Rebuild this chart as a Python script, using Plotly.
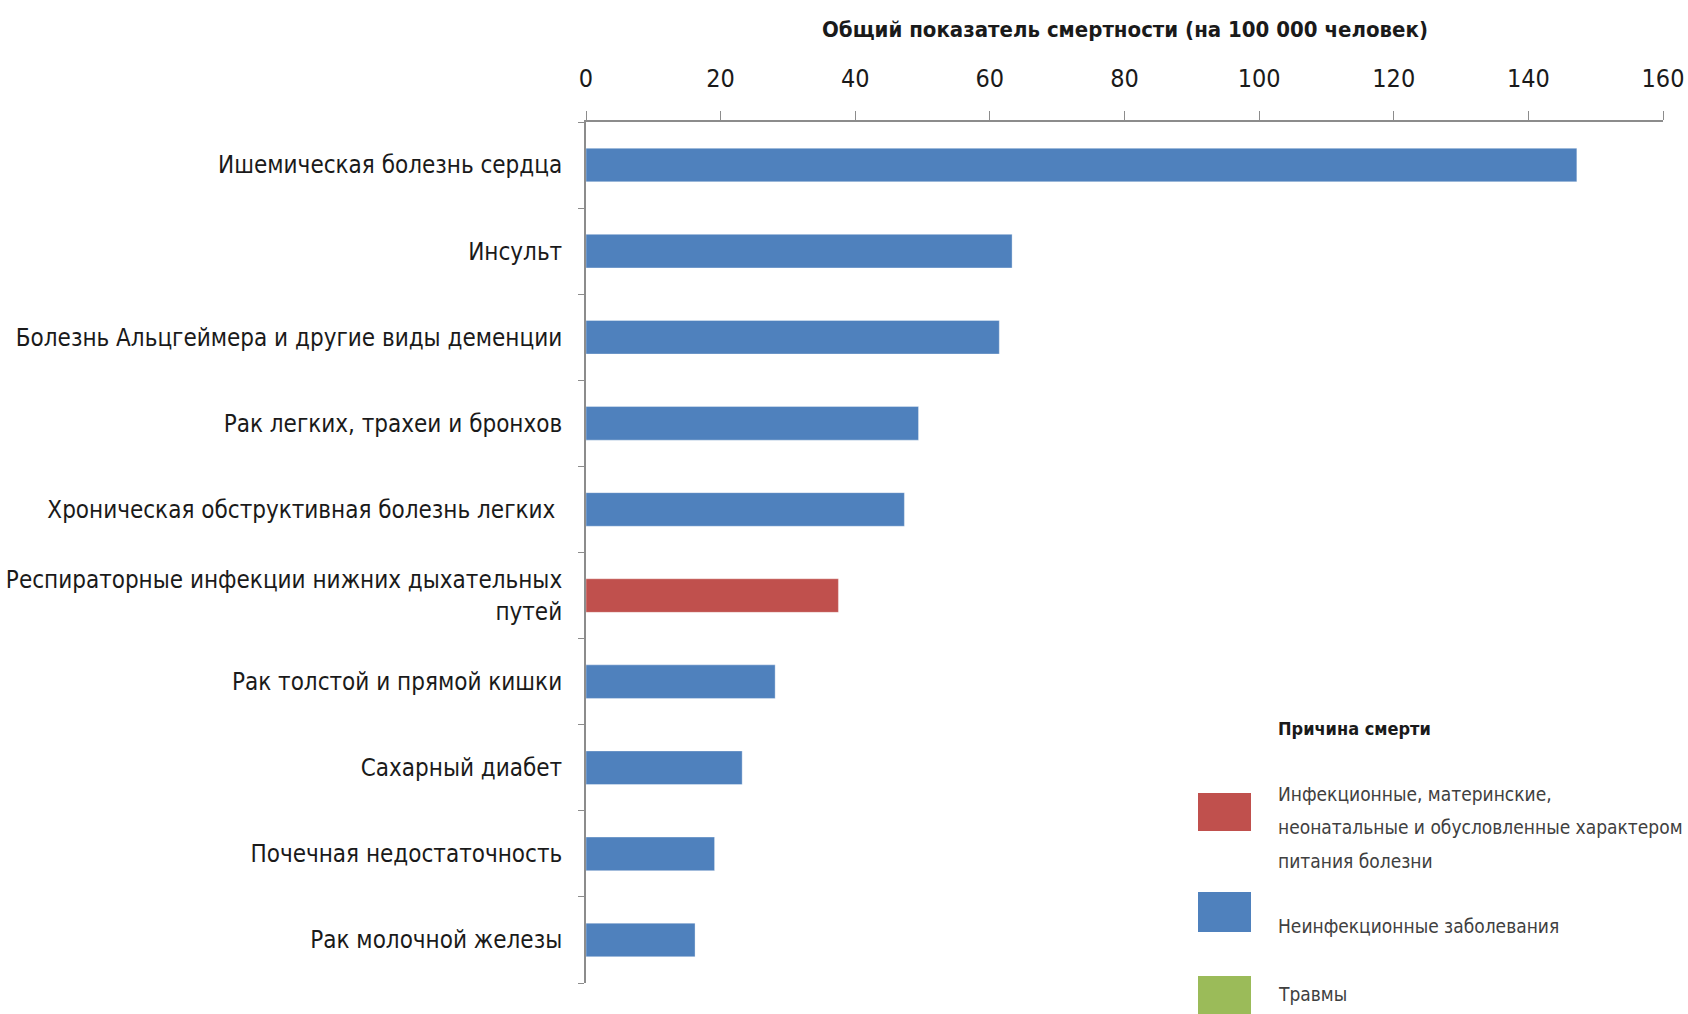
import plotly.graph_objects as go

categories = [
    "Ишемическая болезнь сердца",
    "Инсульт",
    "Болезнь Альцгеймера и другие виды деменции",
    "Рак легких, трахеи и бронхов",
    "Хроническая обструктивная болезнь легких ",
    "Респираторные инфекции нижних дыхательных<br>путей",
    "Рак толстой и прямой кишки",
    "Сахарный диабет",
    "Почечная недостаточность",
    "Рак молочной железы",
]
values = [147.2, 63.3, 61.4, 49.4, 47.3, 37.5, 28.1, 23.2, 19.1, 16.2]
cause_group = [1, 1, 1, 1, 1, 0, 1, 1, 1, 1]

legend_title = "Причина смерти"
legend_labels = [
    ["Инфекционные, материнские,", "неонатальные и обусловленные характером", "питания болезни"],
    ["Неинфекционные заболевания"],
    ["Травмы"],
]
group_colors = ["#c0504d", "#4f81bd", "#9bbb59"]
x_title = "Общий показатель смертности (на 100 000 человек)"
x_ticks = [0, 20, 40, 60, 80, 100, 120, 140, 160]

FONT = "Liberation Sans Narrow, Arial Narrow, DejaVu Sans Condensed, Open Sans, sans-serif"

fig = go.Figure()
fig.add_trace(go.Bar(
    x=values,
    y=categories,
    orientation="h",
    width=0.39,
    marker=dict(color=[group_colors[g] for g in cause_group],
                line=dict(color="rgba(255,255,255,0.35)", width=1)),
    showlegend=False,
))

L, R, T, B = 586, 25, 122, 31
W, H = 1688, 1014
pw, ph = W - L - R, H - T - B

def px(x):
    return (x - L) / pw

def py(y):
    return (H - B - y) / ph

fig.update_layout(
    width=W, height=H,
    margin=dict(l=L, r=R, t=T, b=B),
    paper_bgcolor="white", plot_bgcolor="white",
    font=dict(family=FONT, color="#1a1a1a", size=24),
    xaxis=dict(
        side="top", range=[0, 160], tickvals=x_ticks, showgrid=False, zeroline=False,
        showline=True, linecolor="#8c8c8c", linewidth=2, automargin=False,
        ticks="outside", ticklen=9, tickcolor="#8c8c8c", tickwidth=1,
        ticklabelstandoff=14,
        tickfont=dict(size=25, family=FONT, color="#1a1a1a"),
    ),
    yaxis=dict(
        categoryorder="array", categoryarray=categories[::-1],
        range=[-0.5, 9.5], automargin=False,
        showgrid=False, zeroline=False,
        showline=True, linecolor="#8c8c8c", linewidth=2,
        ticks="outside", ticklen=6, tickcolor="#8c8c8c", tickson="boundaries",
        ticklabelstandoff=17,
        tickfont=dict(size=24, family=FONT, color="#1a1a1a"),
    ),
)

fig.add_annotation(text=x_title, xref="paper", yref="paper", x=0.5, y=py(30),
                   showarrow=False, xanchor="center", yanchor="middle",
                   font=dict(size=22, family=FONT, color="#1a1a1a", weight="bold"))

# Legend drawn manually
fig.add_annotation(text=legend_title, xref="paper", yref="paper", x=px(1276), y=py(728),
                   showarrow=False, xanchor="left", yanchor="middle",
                   font=dict(size=18, family=FONT, color="#1a1a1a", weight="bold"))

sw = [(793, 831), (892, 932), (976, 1016)]
text_y = [[794, 827, 861], [926], [994]]
for i, (y0, y1) in enumerate(sw):
    fig.add_shape(type="rect", xref="paper", yref="paper",
                  x0=px(1198), x1=px(1251), y0=py(y1), y1=py(y0),
                  fillcolor=group_colors[i], line=dict(width=0))
    for line, ty in zip(legend_labels[i], text_y[i]):
        fig.add_annotation(text=line, xref="paper", yref="paper", x=px(1276), y=py(ty),
                           showarrow=False, xanchor="left", yanchor="middle",
                           font=dict(size=19, family=FONT, color="#404040"))

fig.write_html("out.html", config={"displayModeBar": False},
               post_script="document.body.style.margin='0';document.body.style.overflow='hidden';")
